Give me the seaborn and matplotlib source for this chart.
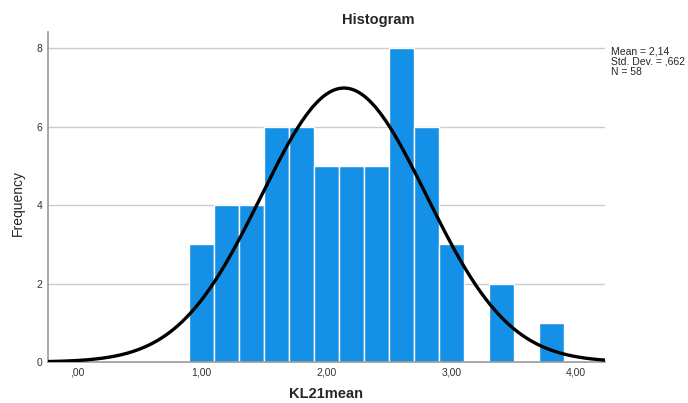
import numpy as np
import pandas as pd
import matplotlib
matplotlib.use("Agg")
import matplotlib.pyplot as plt
import seaborn as sns

# Data
bin_edges = [0.9, 1.1, 1.3, 1.5, 1.7, 1.9, 2.1, 2.3, 2.5, 2.7, 2.9, 3.1, 3.3, 3.5, 3.7, 3.9]
counts = [3, 4, 4, 6, 6, 5, 5, 5, 8, 6, 3, 0, 2, 0, 1]
mean_val = 2.14
std_val = 0.662
n_val = 58
x_ticks = [0, 1, 2, 3, 4]
x_tick_labels = [",00", "1,00", "2,00", "3,00", "4,00"]
y_ticks = [0, 2, 4, 6, 8]

sns.set_style("white")
plt.rcParams['font.family'] = ['Liberation Sans', 'DejaVu Sans']

fig = plt.figure(figsize=(6.88, 4.03), dpi=100)
ax = fig.add_axes([48/688, 1-362/403, (605-48)/688, (362-32)/403])

centers = [(bin_edges[i] + bin_edges[i+1]) / 2 for i in range(len(counts))]
df = pd.DataFrame({"KL21mean": centers, "w": counts})
for y in y_ticks[1:]:
    ax.axhline(y, color="#cccccc", lw=1, zorder=0)

sns.histplot(data=df, x="KL21mean", weights="w", bins=bin_edges, ax=ax,
             color="#1490E6", alpha=1, edgecolor="white", linewidth=1, zorder=2)

xs = np.linspace(-0.23, 4.23, 400)
binw = bin_edges[1] - bin_edges[0]
ys = n_val * binw / (std_val * np.sqrt(2*np.pi)) * np.exp(-0.5*((xs-mean_val)/std_val)**2)
sns.lineplot(x=xs, y=ys, ax=ax, color="black", lw=2.4, zorder=3)

ax.set_xlim(-0.23, 4.23)
ax.set_ylim(0, 8.42)
ax.set_xticks(x_ticks)
ax.set_xticklabels(x_tick_labels, fontsize=7.5, color="#333333")
ax.set_yticks(y_ticks)
ax.set_yticklabels([str(v) for v in y_ticks], fontsize=7.5, color="#333333")
ax.tick_params(axis="x", length=0, pad=4)
ax.tick_params(axis="y", length=0, pad=4)
for s in ["top", "right"]:
    ax.spines[s].set_visible(False)
for s in ["left", "bottom"]:
    ax.spines[s].set_color("#999999")
    ax.spines[s].set_linewidth(1.2)

ax.set_xlabel("")
ax.set_ylabel("")
fig.text(326/688, 1-394/403, "KL21mean", ha="center", va="center", fontsize=10.5, fontweight="bold")
fig.text(18/688, 1-203/403, "Frequency", ha="center", va="center", rotation=90, fontsize=10)
fig.text(378/688, 1-20/403, "Histogram", ha="center", va="center", fontsize=10.5, fontweight="bold")
fig.text(611/688, 1-47/403, "Mean = 2,14\nStd. Dev. = ,662\nN = 58",
         ha="left", va="top", fontsize=7.5, linespacing=0.98)

fig.savefig("out.png", dpi=100)
